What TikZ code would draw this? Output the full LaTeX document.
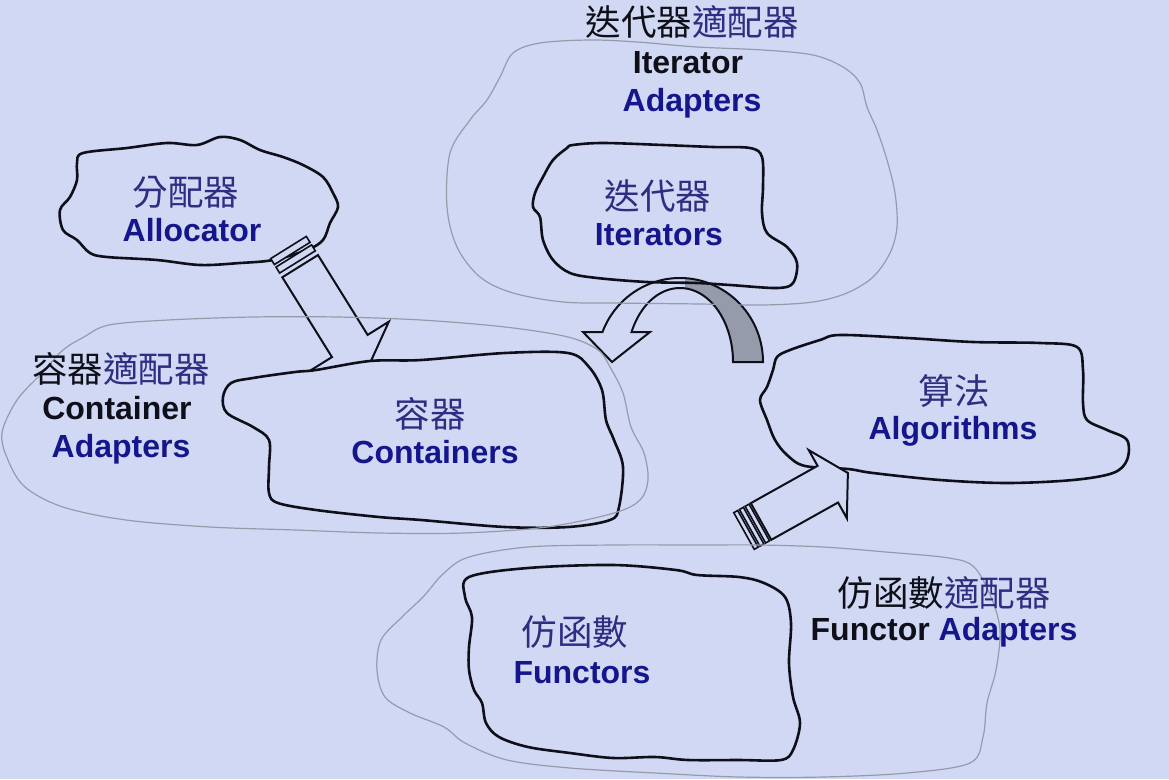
\documentclass[tikz,border=0pt]{standalone}
\usepackage{fontspec}
\setmainfont{Liberation Sans}
\newfontfamily\cjk{Noto Sans CJK TC}
\definecolor{bg}{RGB}{208,216,243}
\definecolor{navy}{RGB}{22,22,140}
\definecolor{cjknavy}{RGB}{45,45,130}
\definecolor{inkblack}{RGB}{15,15,25}
\definecolor{ghost}{RGB}{150,155,172}
\definecolor{bandgray}{RGB}{150,155,172}
\begin{document}
\begin{tikzpicture}[x=1pt,y=-1pt,
 innerblob/.style={draw=inkblack, line width=2.6pt, line join=round},
 outerblob/.style={draw=ghost, line width=1.2pt},
 en/.style={font=\fontsize{32}{36}\selectfont\bfseries, text=navy, inner sep=0pt},
 enblack/.style={en, text=inkblack},
 zh/.style={font=\fontsize{35.5}{40}\selectfont\cjk, text=cjknavy, inner sep=0pt},
 blockarrow/.style={draw=inkblack, line width=2pt, fill=bg, line join=miter},
 stripe/.style={draw=inkblack, line width=1.6pt, fill=bg}
]
\fill[bg] (0,0) rectangle (1169,779);
\useasboundingbox (0,0) rectangle (1169,779);

% Allocator blob
\draw[innerblob, fill=bg] plot[smooth cycle, tension=0.55] coordinates {
(83,153) (127,148) (167,143) (197,145) (220,137) (240,140) (260,150) (283,157) (303,165) (323,177) (333,193) (338,207) (330,223) (323,240) (307,250) (273,260) (240,263) (200,265) (157,260) (107,257) (90,253) (77,240) (63,230) (60,210) (70,197) (77,180) (77,163)};

% Allocator -> Containers arrow
\coordinate (allocTail) at (288.5,247.5);
\begin{scope}[shift={(allocTail)}, rotate=-58.1]
 \draw[blockarrow] (22,-21) -- (116,-21) -- (116,-46) -- (146.6,0) -- (116,46) -- (116,21) -- (22,21) -- cycle;
 \draw[stripe] (0,-21) rectangle (7,21);
 \draw[stripe] (10,-21) rectangle (17,21);
\end{scope}

% Algorithms blob
\draw[innerblob] plot[smooth cycle, tension=0.55] coordinates {
(820,340) (840,335) (907,338) (973,342) (1040,343) (1077,347) (1083,370) (1083,403) (1087,420) (1107,430) (1127,440) (1127,460) (1113,473) (1073,480) (1007,483) (940,480) (873,473) (848,469) (805,466) (787,455) (775,440) (767,420) (760,400) (767,387) (773,370) (777,357) (790,350)};

% Functors -> Algorithms arrow
\coordinate (algTail) at (744,531);
\begin{scope}[shift={(algTail)}, rotate=29.2]
 \draw[blockarrow] (19.5,-21) -- (96,-21) -- (96,-39) -- (119,0) -- (96,39) -- (96,21) -- (19.5,21) -- cycle;
 \draw[stripe] (0,-21) rectangle (4.5,21);
 \draw[stripe] (6.5,-21) rectangle (11,21);
 \draw[stripe] (13,-21) rectangle (17.5,21);
\end{scope}

% Curved arrow Iterators -> Containers
\fill[bandgray] plot[domain=0:86.5, samples=30] ({680+83*cos(\x)},{362-84*sin(\x)})
  -- plot[domain=84.6:0, samples=30] ({680+53*cos(\x)},{362-74*sin(\x)}) -- cycle;
\draw[draw=inkblack, line width=2pt, line join=miter]
  plot[domain=0:159.1, samples=60] ({680+83*cos(\x)},{362-84*sin(\x)})
  -- (583,332) -- (612,362) -- (650,332)
  -- plot[domain=156.1:0, samples=60] ({680+53*cos(\x)},{362-74*sin(\x)}) -- cycle;

% Containers blob (covers arrow tip)
\draw[innerblob, fill=bg] plot[smooth cycle, tension=0.55] coordinates {
(295,372) (316,370) (370,361) (421,360) (505,353) (568,353) (589,367) (602,390) (606,420) (614,440) (623,467) (619,507) (610,520) (568,527) (505,527) (421,520) (379,517) (316,510) (278,503) (269,493) (269,467) (269,440) (253,427) (227,413) (223,397) (231,383) (253,378)};

% Iterators blob
\draw[innerblob] plot[smooth cycle, tension=0.55] coordinates {
(573,145) (603,143) (663,145) (713,147) (750,148) (762,157) (763,187) (762,213) (767,233) (787,247) (797,263) (793,283) (777,288) (730,285) (697,283) (647,282) (597,278) (570,273) (553,260) (543,240) (540,217) (533,207) (535,193) (543,177) (553,160) (567,148)};

% Functors blob
\draw[innerblob] plot[smooth cycle, tension=0.55] coordinates {
(469,577) (528,568) (613,565) (676,570) (697,575) (739,577) (764,583) (785,597) (791,623) (789,663) (793,697) (800,723) (793,750) (781,760) (739,760) (688,760) (655,757) (613,758) (570,753) (528,747) (499,737) (486,723) (482,703) (474,690) (469,670) (469,647) (472,617) (465,597)};

% Outer (adapter) blobs
\draw[outerblob] plot[smooth cycle, tension=0.55] coordinates {
(513,53) (540,43) (590,40) (637,42) (697,47) (763,50) (813,55) (843,67) (860,83) (867,107) (877,130) (887,160) (895,193) (897,227) (890,253) (873,277) (847,293) (813,302) (763,305) (700,304) (613,303) (563,302) (513,293) (480,277) (457,247) (447,207) (450,153) (470,120) (487,100) (500,77)};
\draw[outerblob] plot[smooth cycle, tension=0.55] coordinates {
(84,337) (109,325) (168,320) (253,317) (337,317) (421,320) (505,327) (568,337) (598,350) (610,367) (623,393) (631,427) (644,453) (648,480) (640,500) (614,513) (547,527) (463,533) (379,533) (295,530) (210,527) (126,520) (63,507) (25,487) (8,460) (2,433) (17,400) (42,373) (63,350)};
\draw[outerblob] plot[smooth cycle, tension=0.55] coordinates {
(444,573) (469,557) (528,547) (613,545) (697,545) (760,545) (823,547) (886,552) (949,558) (974,567) (991,597) (1000,630) (996,670) (987,703) (983,737) (970,763) (907,773) (823,777) (739,777) (655,773) (570,768) (507,760) (465,743) (444,727) (410,713) (385,697) (377,670) (381,640) (402,617) (423,597)};

% Texts
\node[zh] (allocZh) at (186,192) {分配器};
\node[en, anchor=base] (allocEn) at (192,241) {Allocator};

\node[zh] (iterAdZh) at (692,22) {\textcolor{inkblack}{迭代器}適配器};
\node[enblack, anchor=base] (iterAdEn1) at (688,73.5) {Iterator};
\node[en, anchor=base] (iterAdEn2) at (692,111.5) {Adapters};
\node[zh] (iterZh) at (658,196) {迭代器};
\node[en, anchor=base] (iterEn) at (659,245) {Iterators};

\node[zh] (contAdZh) at (121,369) {\textcolor{inkblack}{容器}適配器};
\node[enblack, anchor=base] (contAdEn1) at (117,419) {Container};
\node[en, anchor=base] (contAdEn2) at (121,457) {Adapters};
\node[zh] (contZh) at (430,414) {容器};
\node[en, anchor=base] (contEn) at (435,463) {Containers};

\node[zh] (algZh) at (954,391) {算法};
\node[en, anchor=base] (algEn) at (953,439) {Algorithms};

\node[zh] (funZh) at (575,632) {仿函數};
\node[en, anchor=base] (funEn) at (582,683) {Functors};
\node[zh] (funAdZh) at (944,593) {\textcolor{inkblack}{仿函數}適配器};
\node[en, anchor=base] (funAdEn) at (944,640) {\textcolor{inkblack}{Functor} Adapters};
\end{tikzpicture}
\end{document}
